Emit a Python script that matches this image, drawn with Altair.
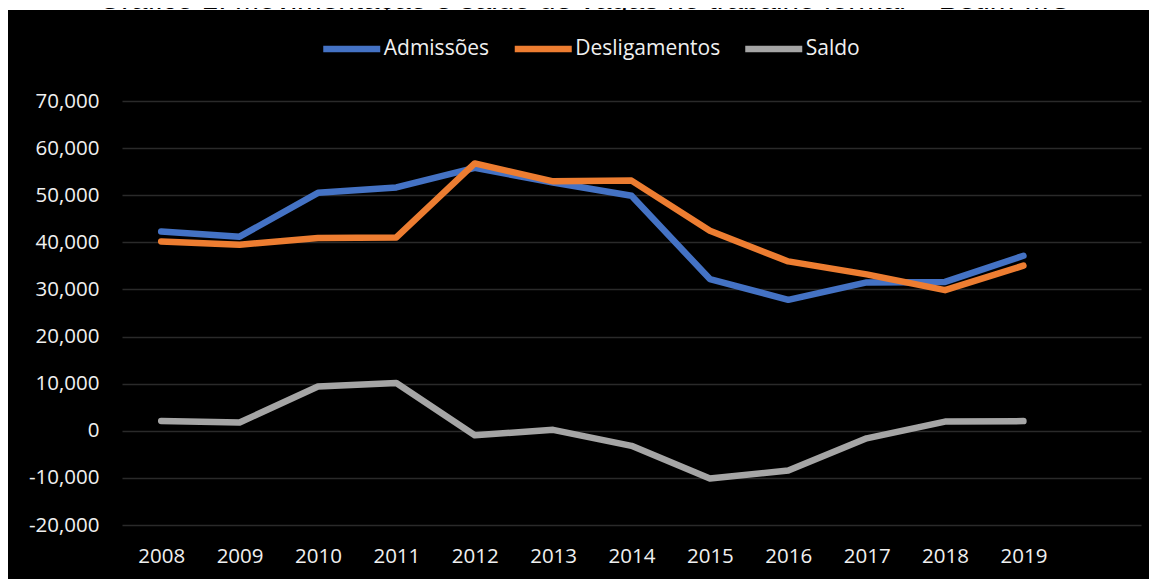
import altair as alt
import pandas as pd

years = [2008, 2009, 2010, 2011, 2012, 2013, 2014, 2015, 2016, 2017, 2018, 2019]
admissoes = [42300, 41200, 50500, 51650, 55800, 52700, 49900, 32200, 27800, 31500, 31600, 37150]
desligamentos = [40200, 39500, 40900, 41050, 56750, 52950, 53100, 42450, 35950, 33200, 29850, 35050]
saldo = [2100, 1750, 9400, 10150, -950, 200, -3200, -10150, -8450, -1600, 1950, 2050]

series_names = ["Admissões", "Desligamentos", "Saldo"]
series_colors = ["#4472C4", "#ED7D31", "#A5A5A5"]
y_ticks = [-20000, -10000, 0, 10000, 20000, 30000, 40000, 50000, 60000, 70000]
title_text = "Gráfico 1: Movimentação e saldo de vagas no trabalho formal – Betim-MG"

rows = []
for name, vals in zip(series_names, [admissoes, desligamentos, saldo]):
    for yr, v in zip(years, vals):
        rows.append({"ano": yr, "valor": v, "serie": name})
df = pd.DataFrame(rows)

SVG_W, SVG_H = 1141, 571
W, H = 1019, 424
PL, PT = 114, 93

lines = alt.Chart(df).mark_line(strokeWidth=6.5, strokeCap="round", strokeJoin="round").encode(
    x=alt.X("ano:Q",
            scale=alt.Scale(domain=[2007.5, 2020.5], nice=False, zero=False),
            axis=alt.Axis(values=years, format="d", title=None, grid=False, domain=False,
                          ticks=False, labelPadding=21, labelFlush=False,
                          labelColor="#F0F0F0", labelFont="Open Sans", labelFontSize=20.5)),
    y=alt.Y("valor:Q",
            scale=alt.Scale(domain=[-20000, 70000], nice=False, zero=False),
            axis=alt.Axis(values=y_ticks, title=None, domain=False, ticks=False,
                          labelPadding=23, gridColor="#2A2A2A", gridWidth=1.5,
                          labelExpr="replace(format(datum.value, ','), '\u2212', '-')",
                          labelColor="#F0F0F0", labelFont="Open Sans", labelFontSize=20.5)),
    color=alt.Color("serie:N",
                    scale=alt.Scale(domain=series_names, range=series_colors),
                    sort=series_names,
                    legend=alt.Legend(title=None, orient="none", legendX=197.75, legendY=-84,
                                      direction="horizontal", symbolType="stroke",
                                      symbolSize=3249, symbolStrokeWidth=6.5,
                                      labelColor="#F0F0F0", labelFont="Open Sans",
                                      labelFontSize=21, labelOffset=0, columnPadding=11.5,
                                      padding=0)),
)

one = pd.DataFrame({"k": [0]})

top_strip = alt.Chart(one).mark_rect(color="white").encode(
    x=alt.value(-PL), x2=alt.value(SVG_W - PL), y=alt.value(-PT), y2=alt.value(-PT + 2)
)

title = alt.Chart(pd.DataFrame({"t": [title_text]})).mark_text(
    font="Liberation Sans", fontSize=29.6, color="black", baseline="alphabetic", align="center"
).encode(text="t:N", x=alt.value(577 - PL), y=alt.value(-PT + 1))

chart = alt.layer(top_strip, title, lines).properties(
    width=W, height=H, background="black",
    padding={"left": PL, "top": PT, "right": SVG_W - PL - W, "bottom": SVG_H - PT - H},
    autosize=alt.AutoSizeParams(type="none"),
).configure_view(stroke=None)

chart.save("out.html", embed_options={"renderer": "svg", "actions": False})
